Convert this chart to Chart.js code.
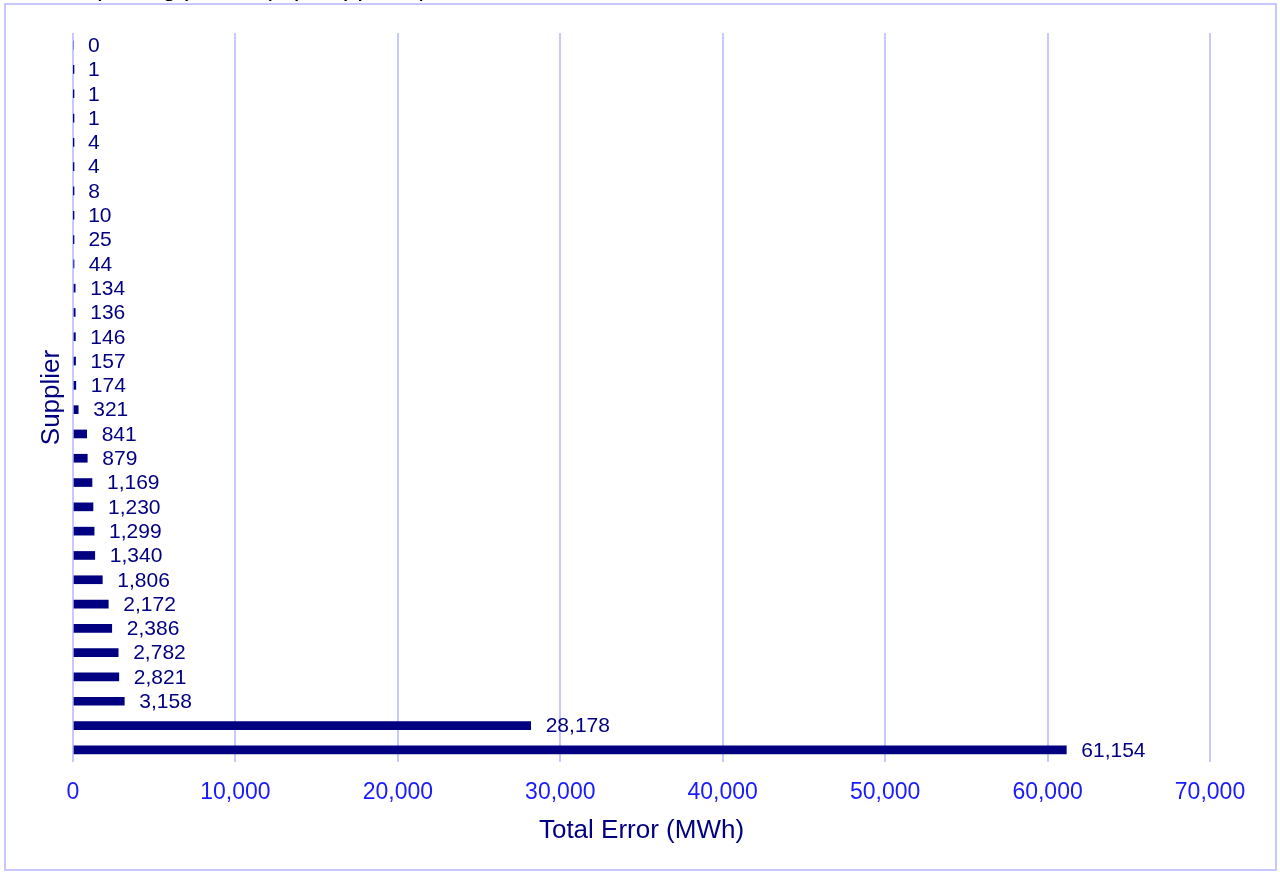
<!DOCTYPE html>
<html>
<head>
<meta charset="utf-8">
<script src="https://cdn.jsdelivr.net/npm/chart.js@4/dist/chart.umd.min.js"></script>
<style>
  html, body { margin: 0; padding: 0; background: #ffffff; overflow: hidden; }
  #wrap { position: relative; width: 1280px; height: 875px; }
</style>
</head>
<body>
<div id="wrap"><canvas id="c"></canvas></div>
<script>
// ---- data ----
const suppliers = [
  "Supplier 01", "Supplier 02", "Supplier 03", "Supplier 04", "Supplier 05",
  "Supplier 06", "Supplier 07", "Supplier 08", "Supplier 09", "Supplier 10",
  "Supplier 11", "Supplier 12", "Supplier 13", "Supplier 14", "Supplier 15",
  "Supplier 16", "Supplier 17", "Supplier 18", "Supplier 19", "Supplier 20",
  "Supplier 21", "Supplier 22", "Supplier 23", "Supplier 24", "Supplier 25",
  "Supplier 26", "Supplier 27", "Supplier 28", "Supplier 29", "Supplier 30"
];
const totalError = [
  0, 1, 1, 1, 4, 4, 8, 10, 25, 44,
  134, 136, 146, 157, 174, 321, 841, 879, 1169, 1230,
  1299, 1340, 1806, 2172, 2386, 2782, 2821, 3158, 28178, 61154
];
const xTicks = [0, 10000, 20000, 30000, 40000, 50000, 60000, 70000];
const chartTitle = "reporting period (top suppliers)";
const xTitle = "Total Error (MWh)";
const yTitle = "Supplier";

const FONT = "'Liberation Sans', Arial, sans-serif";
const NAVY = "#000080";
const GRID = "#c8c8ff";

const fmt = v => v.toLocaleString('en-US');

const framePlugin = {
  id: 'frame',
  beforeDraw(chart) {
    const ctx = chart.ctx;
    ctx.save();
    ctx.fillStyle = '#ffffff';
    ctx.fillRect(0, 0, chart.width, chart.height);
    ctx.strokeStyle = GRID;
    ctx.lineWidth = 2;
    ctx.strokeRect(5, 4, 1271, 866);
    // cut-off title above the frame
    ctx.fillStyle = '#000000';
    ctx.font = "26px " + FONT;
    ctx.textAlign = 'left';
    ctx.textBaseline = 'alphabetic';
    ctx.fillText(chartTitle, 74, -4);
    ctx.restore();
  }
};

const labelPlugin = {
  id: 'valueLabels',
  afterDatasetsDraw(chart) {
    const ctx = chart.ctx;
    const meta = chart.getDatasetMeta(0);
    ctx.save();
    ctx.fillStyle = NAVY;
    ctx.font = "21px " + FONT;
    ctx.textAlign = 'left';
    ctx.textBaseline = 'middle';
    meta.data.forEach((bar, i) => {
      ctx.fillText(fmt(totalError[i]), bar.x + 15, bar.y + 1);
    });
    ctx.restore();
  }
};

new Chart(document.getElementById('c'), {
  type: 'bar',
  data: {
    labels: suppliers,
    datasets: [{
      data: totalError,
      backgroundColor: NAVY,
      borderWidth: 0,
      barThickness: 8
    }]
  },
  options: {
    indexAxis: 'y',
    responsive: true,
    maintainAspectRatio: false,
    animation: false,
    layout: { padding: { left: 0, top: 33, right: 70, bottom: 0 } },
    plugins: {
      legend: { display: false },
      tooltip: { enabled: false },
      title: { display: false }
    },
    scales: {
      x: {
        type: 'linear',
        min: xTicks[0],
        max: xTicks[xTicks.length - 1],
        afterBuildTicks(scale) { scale.ticks = xTicks.map(v => ({ value: v })); },
        afterFit(scale) { scale.height = 113; },
        grid: { color: GRID, lineWidth: 2, drawTicks: false },
        border: { display: false },
        ticks: {
          padding: 17,
          color: '#1a1aff',
          font: { family: FONT, size: 23 },
          callback: v => fmt(v)
        },
        title: {
          display: true,
          text: xTitle,
          color: NAVY,
          font: { family: FONT, size: 26 },
          padding: { top: 0, bottom: 29 }
        }
      },
      y: {
        afterFit(scale) { scale.width = 73; },
        grid: { display: false, drawTicks: false },
        border: { display: false },
        ticks: { display: false },
        title: {
          display: true,
          text: yTitle,
          color: NAVY,
          font: { family: FONT, size: 26 },
          padding: { top: 36, bottom: 0 }
        }
      }
    }
  },
  plugins: [framePlugin, labelPlugin]
});
</script>
</body>
</html>
